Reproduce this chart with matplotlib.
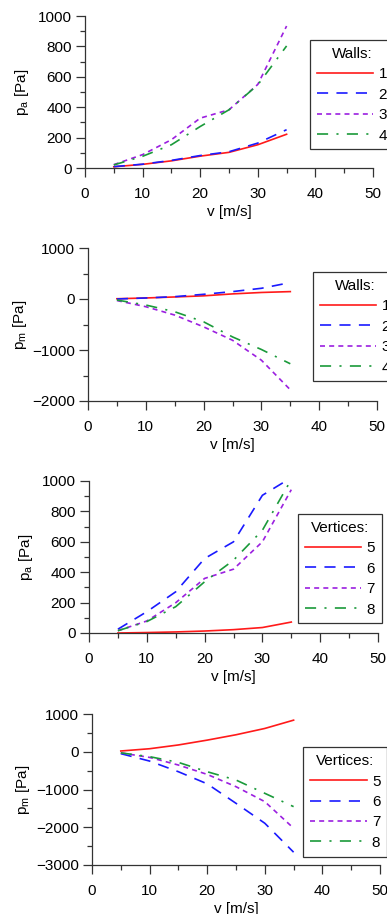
import matplotlib
matplotlib.use('Agg')
import matplotlib.pyplot as plt
from matplotlib.ticker import MultipleLocator

plt.rcParams['font.family'] = ['Liberation Sans', 'DejaVu Sans']
plt.rcParams['mathtext.fontset'] = 'custom'
plt.rcParams['mathtext.rm'] = 'Liberation Sans'
plt.rcParams['mathtext.it'] = 'Liberation Sans:italic'
plt.rcParams['lines.scale_dashes'] = False

# velocidades
v = [5, 10, 15, 20, 25, 30, 35]

# panel 1: p_a, walls
pa_walls = {
    '1': [8, 24, 47, 78, 103, 153, 222],
    '2': [9, 25, 50, 82, 107, 164, 252],
    '3': [22, 88, 186, 328, 383, 550, 934],
    '4': [20, 77, 153, 273, 383, 547, 803],
}
# panel 2: p_m, walls
pm_walls = {
    '1': [5, 20, 40, 62, 100, 128, 145],
    '2': [0, 20, 46, 92, 145, 210, 322],
    '3': [-30, -151, -315, -546, -809, -1200, -1780],
    '4': [-20, -118, -250, -447, -743, -990, -1270],
}
# panel 3: p_a, vertices
pa_vert = {
    '5': [0, 3, 7, 13, 22, 36, 72],
    '6': [25, 140, 271, 490, 600, 906, 1022],
    '7': [15, 79, 199, 359, 420, 600, 943],
    '8': [15, 75, 173, 337, 479, 676, 1010],
}
# panel 4: p_m, vertices
pm_vert = {
    '5': [20, 80, 180, 308, 450, 617, 837],
    '6': [-50, -247, -529, -850, -1366, -1894, -2661],
    '7': [-30, -150, -352, -600, -925, -1322, -2026],
    '8': [-30, -130, -282, -529, -749, -1101, -1454],
}

colores = ['#ff1a1a', '#1a1aff', '#9b1fe0', '#1a9a3a']
guiones = [None, (8, 6), (3.6, 3.0), (8, 6, 1.5, 6)]

paneles = [
    (pa_walls, 'Walls:', r'p$_\mathrm{a}$ [Pa]', (0, 1000), 200, 100,
     [85, 16, 288, 152], (0.781, 0.842), -0.188),
    (pm_walls, 'Walls:', r'p$_\mathrm{m}$ [Pa]', (-2000, 1000), 1000, 500,
     [88, 248, 289, 153], (0.778, 0.843), -0.205),
    (pa_vert, 'Vertices:', r'p$_\mathrm{a}$ [Pa]', (0, 1000), 200, 100,
     [89, 481, 289, 152], (0.723, 0.783), -0.186),
    (pm_vert, 'Vertices:', r'p$_\mathrm{m}$ [Pa]', (-3000, 1000), 1000, 500,
     [92, 714, 288, 151], (0.733, 0.78), -0.208),
]

W, H = 387, 914
fig = plt.figure(figsize=(W / 100, H / 100), dpi=100)

for datos, titulo, ylab, ylim, mayor, menor, caja, leg_pos, ylx in paneles:
    x0, y0, w, h = caja
    ax = fig.add_axes([x0 / W, 1 - (y0 + h) / H, w / W, h / H])
    for (nombre, vals), c, d in zip(datos.items(), colores, guiones):
        ln, = ax.plot(v, vals, color=c, lw=1.2, label=nombre)
        if d is not None:
            ln.set_dashes(d)
    ax.set_xlim(0, 50)
    ax.set_ylim(*ylim)
    ax.xaxis.set_major_locator(MultipleLocator(10))
    ax.xaxis.set_minor_locator(MultipleLocator(5))
    ax.yaxis.set_major_locator(MultipleLocator(mayor))
    ax.yaxis.set_minor_locator(MultipleLocator(menor))
    for s in ['top', 'right']:
        ax.spines[s].set_visible(False)
    for s in ['left', 'bottom']:
        ax.spines[s].set_color('#333333')
        ax.spines[s].set_linewidth(0.9)
    ax.tick_params(which='major', length=6.5, width=0.9, color='#333333',
                   labelsize=11)
    ax.tick_params(which='minor', length=3.5, width=0.9, color='#333333')
    ax.tick_params(axis='x', which='major', pad=7)
    ax.tick_params(axis='y', which='major', pad=3)
    ax.set_xlabel('v [m/s]', fontsize=11, labelpad=3)
    ax.set_ylabel(ylab, fontsize=11)
    ax.yaxis.set_label_coords(ylx, 0.5)
    leg = ax.legend(title=titulo, loc='upper left', bbox_to_anchor=leg_pos,
                    borderaxespad=0, fontsize=11, title_fontsize=11,
                    frameon=True, fancybox=False, edgecolor='black',
                    handlelength=3.7, handletextpad=0.35, labelspacing=0.42,
                    borderpad=0.45)
    leg.get_frame().set_linewidth(0.9)
    leg.set_clip_on(False)

fig.savefig('out.png', dpi=100)
